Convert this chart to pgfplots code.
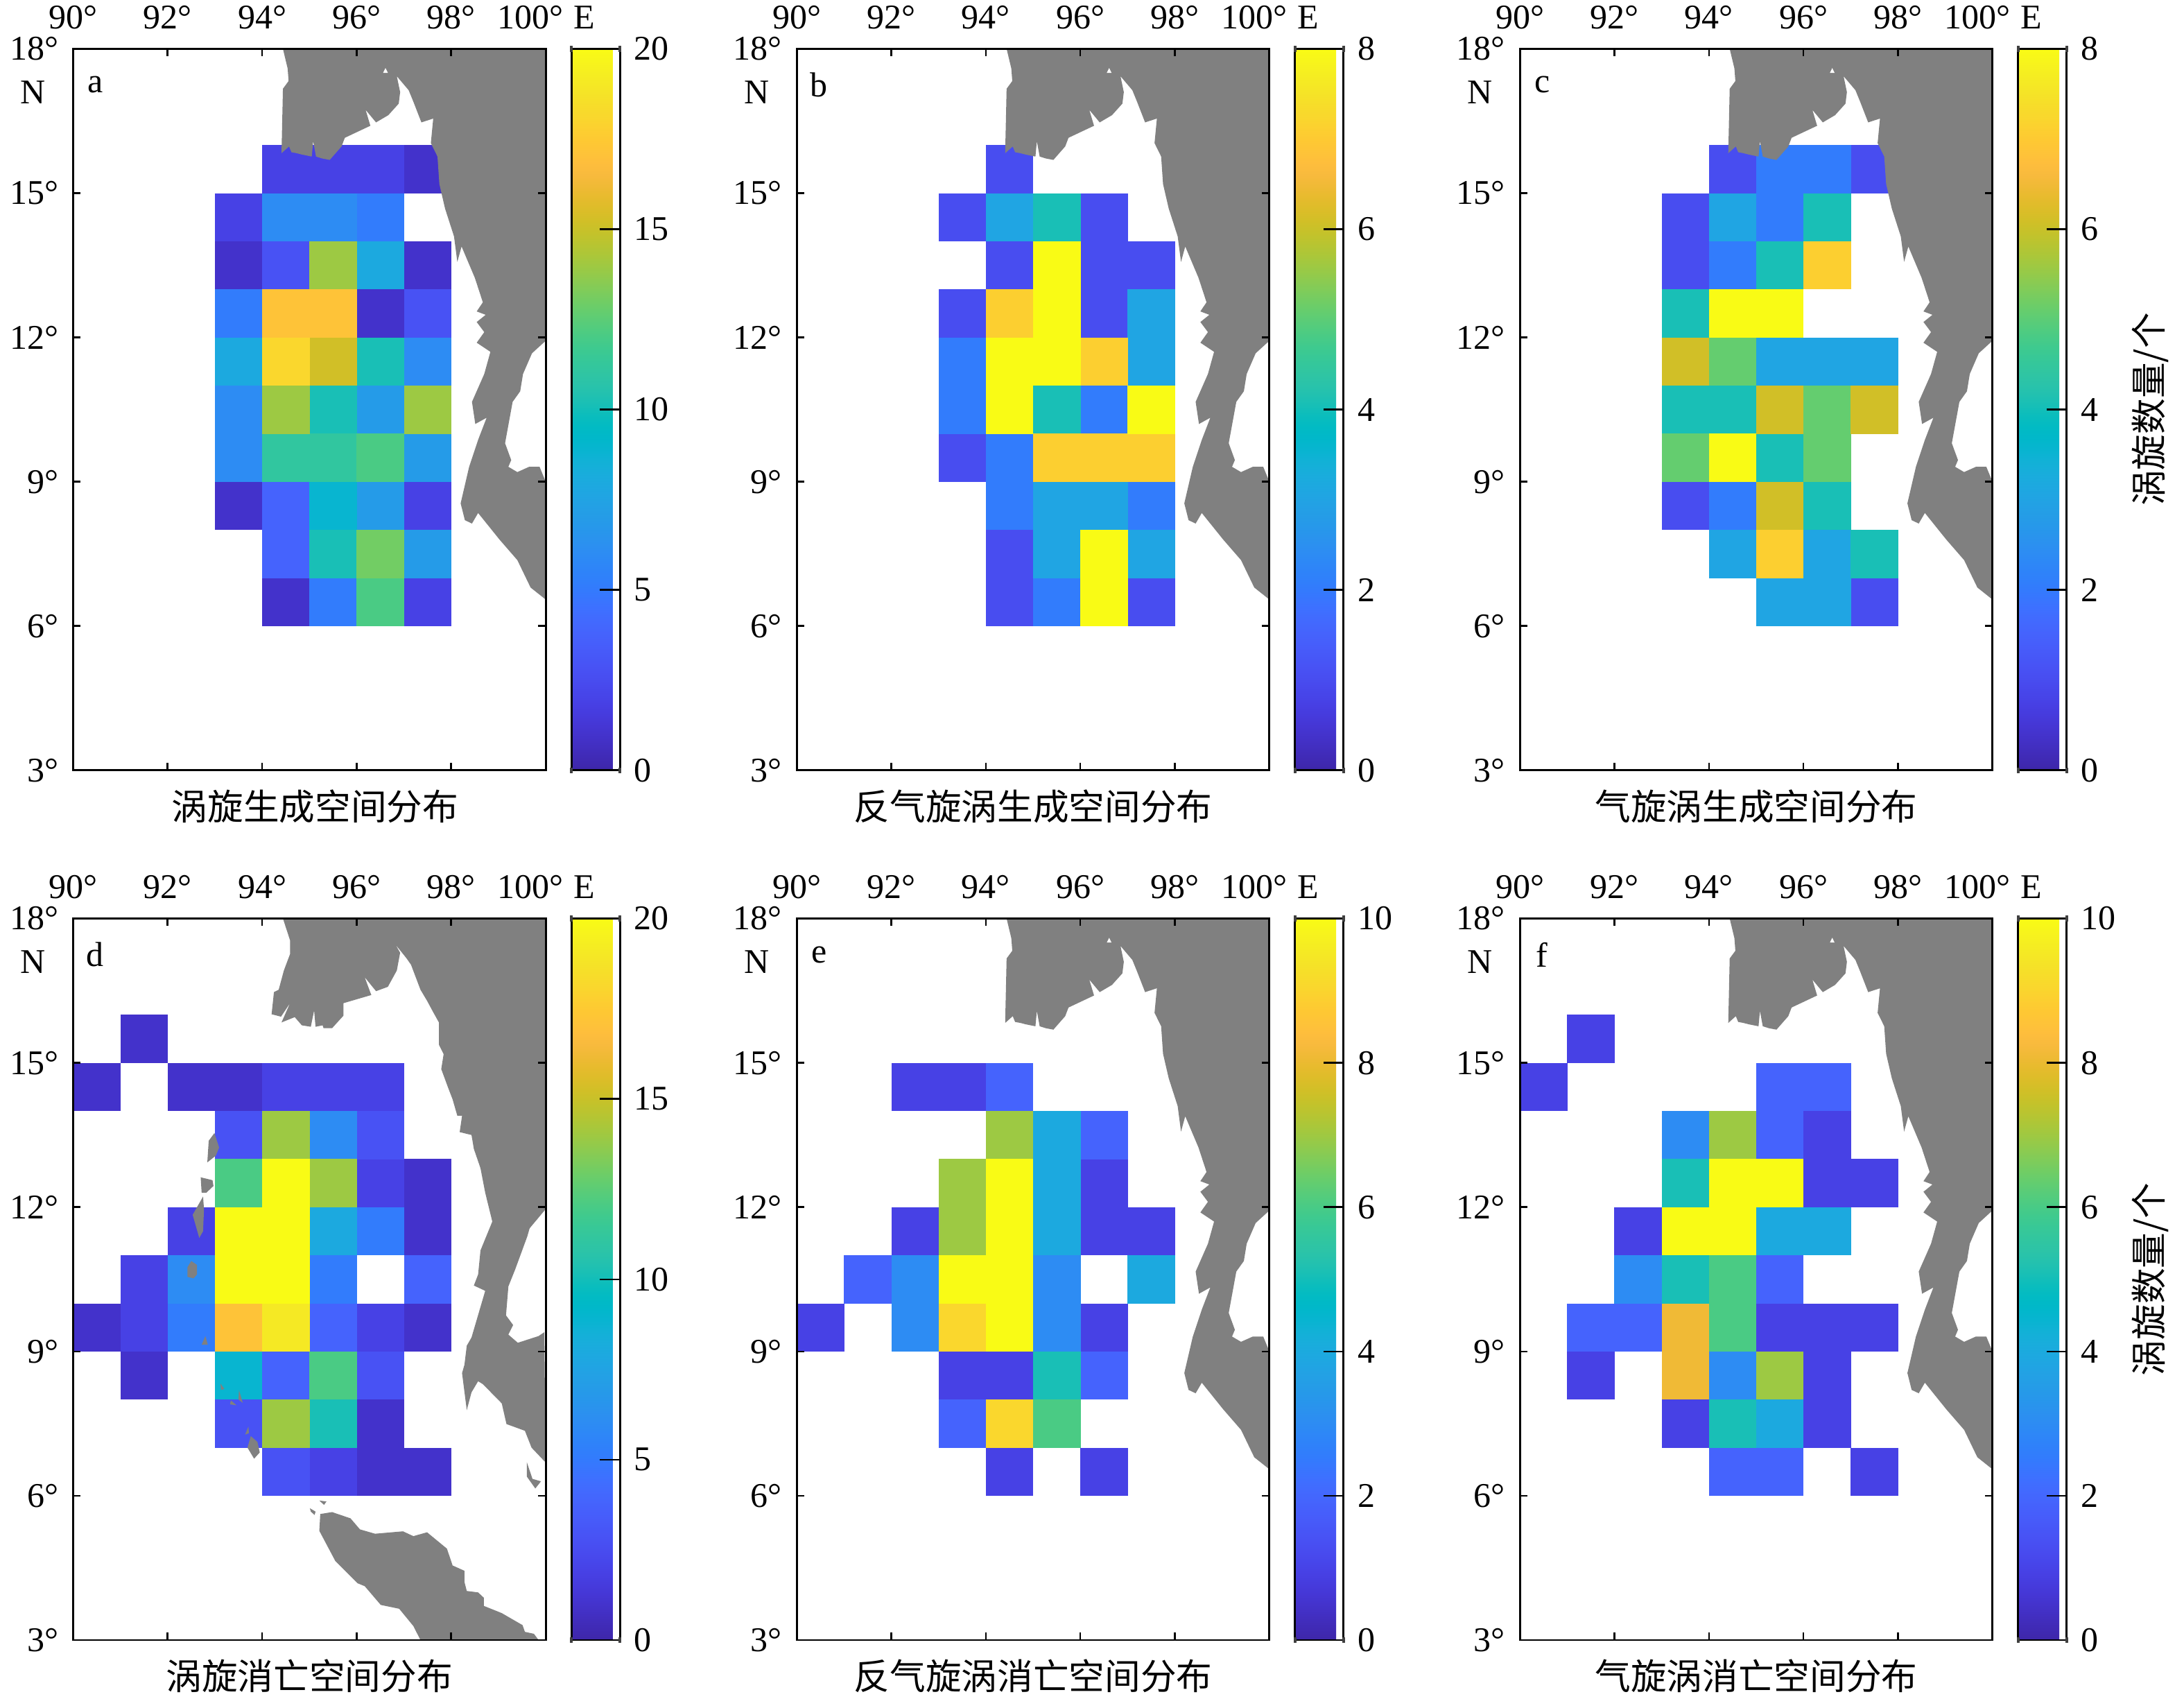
\documentclass[border=0pt]{standalone}
\usepackage{fontspec}
\usepackage{pgfplots}
\pgfplotsset{compat=1.18}
\setmainfont{Liberation Serif}
\newfontfamily\cjk{Noto Sans CJK SC}
\definecolor{landgray}{RGB}{128,128,128}
\definecolor{nubgray}{RGB}{64,64,64}
\newcommand{\lab}{\fontsize{12}{12}\selectfont}

% cell colours, named by their place in the 64 step colormap below
\definecolor{p4}{rgb}{0.2647,0.1978,0.7952}
\definecolor{p7}{rgb}{0.2783,0.2559,0.8991}
\definecolor{p9}{rgb}{0.2813,0.3006,0.9414}
\definecolor{p10}{rgb}{0.2810,0.3228,0.9579}
\definecolor{p13}{rgb}{0.2699,0.3892,0.9906}
\definecolor{p17}{rgb}{0.1963,0.4847,0.9892}
\definecolor{p20}{rgb}{0.1764,0.5499,0.9520}
\definecolor{p23}{rgb}{0.1460,0.6091,0.9079}
\definecolor{p25}{rgb}{0.1248,0.6459,0.8883}
\definecolor{p26}{rgb}{0.1113,0.6635,0.8763}
\definecolor{p29}{rgb}{0.0297,0.7082,0.8163}
\definecolor{p33}{rgb}{0.0964,0.7500,0.7120}
\definecolor{p36}{rgb}{0.1938,0.7758,0.6251}
\definecolor{p39}{rgb}{0.2906,0.7973,0.5188}
\definecolor{p41}{rgb}{0.3909,0.8029,0.4354}
\definecolor{p42}{rgb}{0.4456,0.8024,0.3909}
\definecolor{p45}{rgb}{0.6174,0.7876,0.2612}
\definecolor{p49}{rgb}{0.8203,0.7498,0.1535}
\definecolor{p52}{rgb}{0.9393,0.7288,0.2100}
\definecolor{p55}{rgb}{0.9970,0.7659,0.2199}
\definecolor{p57}{rgb}{0.9892,0.8130,0.1885}
\definecolor{p58}{rgb}{0.9786,0.8422,0.1766}
\definecolor{p61}{rgb}{0.9597,0.9135,0.1423}
\definecolor{p64}{rgb}{0.9769,0.9839,0.0805}

\pgfplotsset{
    colormap={parula}{
        rgb=(0.2422,0.1504,0.6603); rgb=(0.2504,0.1650,0.7076); rgb=(0.2578,0.1818,0.7511); rgb=(0.2647,0.1978,0.7952);
        rgb=(0.2706,0.2147,0.8364); rgb=(0.2751,0.2342,0.8710); rgb=(0.2783,0.2559,0.8991); rgb=(0.2803,0.2782,0.9221);
        rgb=(0.2813,0.3006,0.9414); rgb=(0.2810,0.3228,0.9579); rgb=(0.2795,0.3447,0.9717); rgb=(0.2760,0.3667,0.9829);
        rgb=(0.2699,0.3892,0.9906); rgb=(0.2602,0.4123,0.9952); rgb=(0.2440,0.4358,0.9988); rgb=(0.2206,0.4603,0.9973);
        rgb=(0.1963,0.4847,0.9892); rgb=(0.1834,0.5074,0.9798); rgb=(0.1786,0.5289,0.9682); rgb=(0.1764,0.5499,0.9520);
        rgb=(0.1687,0.5703,0.9359); rgb=(0.1540,0.5902,0.9218); rgb=(0.1460,0.6091,0.9079); rgb=(0.1380,0.6276,0.8973);
        rgb=(0.1248,0.6459,0.8883); rgb=(0.1113,0.6635,0.8763); rgb=(0.0952,0.6798,0.8598); rgb=(0.0689,0.6948,0.8394);
        rgb=(0.0297,0.7082,0.8163); rgb=(0.0036,0.7203,0.7917); rgb=(0.0067,0.7312,0.7660); rgb=(0.0433,0.7411,0.7394);
        rgb=(0.0964,0.7500,0.7120); rgb=(0.1408,0.7584,0.6842); rgb=(0.1717,0.7670,0.6554); rgb=(0.1938,0.7758,0.6251);
        rgb=(0.2161,0.7843,0.5923); rgb=(0.2470,0.7918,0.5567); rgb=(0.2906,0.7973,0.5188); rgb=(0.3406,0.8008,0.4789);
        rgb=(0.3909,0.8029,0.4354); rgb=(0.4456,0.8024,0.3909); rgb=(0.5044,0.7993,0.3480); rgb=(0.5616,0.7942,0.3045);
        rgb=(0.6174,0.7876,0.2612); rgb=(0.6720,0.7793,0.2227); rgb=(0.7242,0.7698,0.1910); rgb=(0.7738,0.7598,0.1646);
        rgb=(0.8203,0.7498,0.1535); rgb=(0.8634,0.7406,0.1596); rgb=(0.9035,0.7330,0.1774); rgb=(0.9393,0.7288,0.2100);
        rgb=(0.9728,0.7298,0.2394); rgb=(0.9956,0.7434,0.2371); rgb=(0.9970,0.7659,0.2199); rgb=(0.9952,0.7861,0.1990);
        rgb=(0.9892,0.8130,0.1885); rgb=(0.9786,0.8422,0.1766); rgb=(0.9676,0.8639,0.1643); rgb=(0.9610,0.8890,0.1537);
        rgb=(0.9597,0.9135,0.1423); rgb=(0.9628,0.9373,0.1265); rgb=(0.9691,0.9606,0.1064); rgb=(0.9769,0.9839,0.0805);
    },
    cell/.style={
        only marks, mark=square*, mark size=8.1pt,
        mark options={draw=#1, fill=#1, yscale=1.016, line width=0.16pt},
    },
    land/.style={fill=landgray, draw=none},
    panel/.style={
        anchor=south west,
        scale only axis,
        width=163.6pt,
        height=249.7pt,
        xmin=90, xmax=100,
        ymin=3, ymax=18,
        axis on top,
        clip mode=individual,
        axis line style={line width=0.7pt},
        tick align=inside,
        tick style={black, line width=0.6pt},
        major tick length=2.6pt,
        xtick={90,92,...,100},
        ytick={3,6,...,18},
        xticklabel pos=top,
        xticklabels={90°,92°,94°,96°,98°,{}},
        yticklabels={3°,6°,9°,12°,15°,18°},
        tick label style={font=\lab},
        xticklabel style={anchor=base, yshift=7pt},
        yticklabel style={anchor=east, xshift=-1.6pt},
        colormap name=parula,
        point meta min=0,
        colorbar,
        colorbar style={
            scale only axis,
            at={(parent axis.north east)},
            anchor=north west,
            xshift=0.37pt,
            width=16.8pt,
            axis line style={line width=0.7pt},
            tick align=inside,
            major tick length=7pt,
            ytick pos=right,
            ytick style={black, line width=0.6pt},
            xtick style={draw=none},
            yticklabel style={font=\lab, anchor=west, xshift=1.4pt,
                /pgf/number format/assume math mode=true},
            extra description/.code={
                \fill[nubgray] (-0.03,0.996) rectangle (0.03,1.004);
                \fill[nubgray] (0.97,0.996) rectangle (1.03,1.004);
                \fill[nubgray] (-0.03,-0.004) rectangle (0.03,0.004);
                \fill[nubgray] (0.97,-0.004) rectangle (1.03,0.004);
            },
        },
    },
}

% letter, title, title shift
\newcommand{\paneltext}[3]{
    \node[font=\lab] at (axis cs:90.47,17.25) {#1};
    \node[font=\lab] at (rel axis cs:-0.0844,0.9394) {N};
    \node[font=\lab, anchor=base, yshift=7pt] at (rel axis cs:0.968,1) {100°};
    \node[font=\lab, anchor=base, yshift=7pt] at (rel axis cs:1.082,1) {E};
    \node[font=\cjk\fontsize{12.4}{12.4}\selectfont, yshift=-12.5pt] at (rel axis cs:#3,0) {#2};
}
\newcommand{\unitlabel}{
    \node[font=\cjk\fontsize{12.4}{12.4}\selectfont, rotate=90] at (rel axis cs:1.334,0.5) {涡旋数量/个};
}

% coast as seen in panels a, b, c, e, f
\newcommand{\landtop}{
    \addplot[land] coordinates {
        (94.44,18) (94.54,17.59) (94.56,17.33) (94.44,17.17) (94.41,15.83) (94.57,15.97) (94.62,15.85) (94.73,15.83)
        (94.85,15.8) (95.05,15.76) (95.08,16.08) (95.14,15.76) (95.27,15.72) (95.43,15.69) (95.68,15.97) (95.75,16.15)
        (96.29,16.4) (96.19,16.73) (96.41,16.47) (96.67,16.62) (96.89,16.86) (96.92,17.10) (96.85,17.43) (97.10,17.14)
        (97.2,16.9) (97.37,16.47) (97.62,16.55) (97.57,16.04) (97.71,15.76) (97.75,15.19) (97.87,14.68) (98.06,14.1)
        (98.13,13.57) (98.22,13.89) (98.5,13.24) (98.67,12.73) (98.54,12.54) (98.73,12.47) (98.54,12.32) (98.7,12.11)
        (98.54,11.89) (98.83,11.7) (98.7,11.24) (98.44,10.66) (98.51,10.2) (98.75,10.33) (98.57,9.87) (98.38,9.31)
        (98.2,8.55) (98.29,8.2) (98.44,8.13) (98.57,8.35) (99.02,7.8) (99.4,7.37) (99.68,6.8) (100,6.55)
        (100,9.0) (99.87,9.31) (99.65,9.31) (99.4,9.2) (99.21,9.31) (99.27,9.45) (99.14,9.8) (99.3,10.66)
        (99.46,10.88) (99.52,11.24) (99.71,11.67) (100,11.93) (100,18)
    } -- cycle;
    \addplot[land, fill=white] coordinates {(96.61,17.6) (96.66,17.5) (96.56,17.5)} -- cycle;
}
% coarser coast, islands and Sumatra of panel d
\newcommand{\landd}{
    \addplot[land] coordinates {
        (94.44,18) (94.59,17.55) (94.59,17.26) (94.46,16.92) (94.35,16.52) (94.25,16.47) (94.2,16.01) (94.4,15.96)
        (94.59,16.24) (94.41,15.84) (94.69,15.95) (94.84,15.78) (95.03,15.75) (95.1,16.09) (95.13,15.75) (95.28,15.78)
        (95.3,15.72) (95.48,15.72) (95.72,15.98) (95.72,16.24) (96.31,16.41) (96.17,16.78) (96.41,16.49) (96.66,16.58)
        (96.85,16.92) (96.92,17.29) (96.82,17.46) (97.05,17.18) (97.15,17.04) (97.35,16.52) (97.49,16.29) (97.61,16.07)
        (97.74,15.84) (97.74,15.38) (97.84,15.18) (97.79,14.87) (97.94,14.47) (98.03,14.24) (98.13,13.9) (98.23,13.9)
        (98.18,13.56) (98.43,13.5) (98.48,13.21) (98.62,12.81) (98.72,12.3) (98.87,11.7) (98.62,11.1) (98.57,10.6)
        (98.48,10.37) (98.72,10.26) (98.43,9.29) (98.33,9.12) (98.28,8.72) (98.23,8.55) (98.33,7.78) (98.43,8.15)
        (98.57,8.38) (98.67,8.32) (99.07,7.92) (99.17,7.49) (99.56,7.35) (99.7,7.0) (99.97,6.72) (100,6.7)
        (99.97,9.4) (99.85,9.32) (99.41,9.18) (99.21,9.35) (99.31,9.55) (99.16,9.75) (99.21,10.35) (99.36,10.72)
        (99.61,11.39) (99.66,11.56) (100,11.96) (100,18)
    } -- cycle;
    \addplot[land] coordinates {(92.99,13.54) (93.09,13.24) (93.02,13.07) (92.84,12.93) (92.87,13.38)} -- cycle;
    \addplot[land] coordinates {(92.70,12.62) (92.95,12.56) (92.97,12.44) (92.82,12.30) (92.72,12.30)} -- cycle;
    \addplot[land] coordinates {(92.75,12.22) (92.77,11.96) (92.75,11.50) (92.67,11.36) (92.53,11.84)} -- cycle;
    \addplot[land] coordinates {(92.5,10.88) (92.62,10.8) (92.62,10.6) (92.55,10.52) (92.42,10.55) (92.42,10.75)} -- cycle;
    \addplot[land] coordinates {(92.8,9.32) (92.85,9.14) (92.72,9.14)} -- cycle;
    \addplot[land] coordinates {(93.12,8.33) (93.2,8.22) (93.13,8.2)} -- cycle;
    \addplot[land] coordinates {(93.51,8.2) (93.59,7.93) (93.5,8.0)} -- cycle;
    \addplot[land] coordinates {(93.34,7.98) (93.46,7.88) (93.32,7.9)} -- cycle;
    \addplot[land] coordinates {(93.71,7.44) (93.64,7.27) (93.72,7.3)} -- cycle;
    \addplot[land] coordinates {(93.76,7.24) (93.9,7.12) (93.95,6.9) (93.83,6.77) (93.69,7.0)} -- cycle;
    \addplot[land] coordinates {(95.01,5.74) (95.13,5.67) (95.11,5.6) (95.03,5.67)} -- cycle;
    \addplot[land] coordinates {(95.21,5.9) (95.36,5.88) (95.31,5.81)} -- cycle;
    \addplot[land] coordinates {(99.6,6.7) (99.72,6.35) (99.9,6.3) (99.78,6.15) (99.6,6.4)} -- cycle;
    \addplot[land] coordinates {
        (95.23,5.62) (95.48,5.66) (95.87,5.53) (96.07,5.3) (96.39,5.21) (96.98,5.26) (97.2,5.16) (97.49,5.24)
        (97.91,4.9) (98.03,4.55) (98.28,4.44) (98.28,4.21) (98.33,4.02) (98.57,3.99) (98.69,3.88) (98.69,3.71)
        (99.07,3.56) (99.51,3.31) (99.56,3.17) (99.75,3.13) (99.85,3.0) (97.35,3) (97.2,3.29) (96.9,3.65)
        (96.51,3.73) (96.17,4.12) (96.02,4.18) (95.55,4.64) (95.21,5.27)
    } -- cycle;
}

\begin{document}
\begin{tikzpicture}
\path[use as bounding box] (0,0) rectangle (756pt,588pt);

% a: one plot per count, max 20
\begin{axis}[panel, at={(25.3pt,321.4pt)}, point meta max=20, colorbar style={ytick={0,5,10,15,20}}]
\addplot[cell=p4] coordinates {(97.5,15.5) (93.5,13.5) (97.5,13.5) (96.5,12.5) (93.5,8.5) (94.5,6.5)}; % 1
\addplot[cell=p7] coordinates {(94.5,15.5) (95.5,15.5) (96.5,15.5) (93.5,14.5) (97.5,8.5) (97.5,6.5)}; % 2
\addplot[cell=p10] coordinates {(94.5,13.5) (97.5,12.5)}; % 3
\addplot[cell=p13] coordinates {(94.5,8.5) (94.5,7.5)}; % 4
\addplot[cell=p17] coordinates {(96.5,14.5) (93.5,12.5) (95.5,6.5)}; % 5
\addplot[cell=p20] coordinates {(94.5,14.5) (95.5,14.5) (97.5,11.5) (93.5,10.5) (93.5,9.5)}; % 6
\addplot[cell=p23] coordinates {(96.5,10.5) (97.5,9.5) (96.5,8.5) (97.5,7.5)}; % 7
\addplot[cell=p26] coordinates {(96.5,13.5) (93.5,11.5)}; % 8
\addplot[cell=p29] coordinates {(95.5,8.5)}; % 9
\addplot[cell=p33] coordinates {(96.5,11.5) (95.5,10.5) (95.5,7.5)}; % 10
\addplot[cell=p36] coordinates {(94.5,9.5) (95.5,9.5)}; % 11
\addplot[cell=p39] coordinates {(96.5,9.5) (96.5,6.5)}; % 12
\addplot[cell=p42] coordinates {(96.5,7.5)}; % 13
\addplot[cell=p45] coordinates {(95.5,13.5) (94.5,10.5) (97.5,10.5)}; % 14
\addplot[cell=p49] coordinates {(95.5,11.5)}; % 15
\addplot[cell=p55] coordinates {(94.5,12.5) (95.5,12.5)}; % 17
\addplot[cell=p58] coordinates {(94.5,11.5)}; % 18
\landtop
\paneltext{a}{涡旋生成空间分布}{0.512}
\end{axis}

% b: max 8
\begin{axis}[panel, at={(275.8pt,321.4pt)}, point meta max=8, colorbar style={ytick={0,2,4,6,8}}]
\addplot[cell=p9] coordinates {(94.5,15.5) (93.5,14.5) (96.5,14.5) (94.5,13.5) (96.5,13.5) (97.5,13.5) (93.5,12.5) (96.5,12.5) (93.5,9.5) (94.5,7.5) (94.5,6.5) (97.5,6.5)}; % 1
\addplot[cell=p17] coordinates {(93.5,11.5) (93.5,10.5) (96.5,10.5) (94.5,9.5) (94.5,8.5) (97.5,8.5) (95.5,6.5)}; % 2
\addplot[cell=p25] coordinates {(94.5,14.5) (97.5,12.5) (97.5,11.5) (95.5,8.5) (96.5,8.5) (95.5,7.5) (97.5,7.5)}; % 3
\addplot[cell=p33] coordinates {(95.5,14.5) (95.5,10.5)}; % 4
\addplot[cell=p57] coordinates {(94.5,12.5) (96.5,11.5) (95.5,9.5) (96.5,9.5) (97.5,9.5)}; % 7
\addplot[cell=p64] coordinates {(95.5,13.5) (95.5,12.5) (94.5,11.5) (95.5,11.5) (94.5,10.5) (97.5,10.5) (96.5,7.5) (96.5,6.5)}; % 8
\landtop
\paneltext{b}{反气旋涡生成空间分布}{0.5}
\end{axis}

% c: max 8
\begin{axis}[panel, at={(526.1pt,321.4pt)}, point meta max=8, colorbar style={ytick={0,2,4,6,8}}]
\addplot[cell=p9] coordinates {(94.5,15.5) (97.5,15.5) (93.5,14.5) (93.5,13.5) (93.5,8.5) (97.5,6.5)}; % 1
\addplot[cell=p17] coordinates {(95.5,15.5) (96.5,15.5) (95.5,14.5) (94.5,13.5) (94.5,8.5)}; % 2
\addplot[cell=p25] coordinates {(94.5,14.5) (95.5,11.5) (96.5,11.5) (97.5,11.5) (94.5,7.5) (96.5,7.5) (95.5,6.5) (96.5,6.5)}; % 3
\addplot[cell=p33] coordinates {(96.5,14.5) (95.5,13.5) (93.5,12.5) (93.5,10.5) (94.5,10.5) (95.5,9.5) (96.5,8.5) (97.5,7.5)}; % 4
\addplot[cell=p41] coordinates {(94.5,11.5) (96.5,10.5) (93.5,9.5) (96.5,9.5)}; % 5
\addplot[cell=p49] coordinates {(93.5,11.5) (95.5,10.5) (97.5,10.5) (95.5,8.5)}; % 6
\addplot[cell=p57] coordinates {(96.5,13.5) (95.5,7.5)}; % 7
\addplot[cell=p64] coordinates {(94.5,12.5) (95.5,12.5) (94.5,9.5)}; % 8
\landtop
\paneltext{c}{气旋涡生成空间分布}{0.5}
\unitlabel
\end{axis}

% d: max 20
\begin{axis}[panel, at={(25.3pt,20.4pt)}, point meta max=20, colorbar style={ytick={0,5,10,15,20}}]
\addplot[cell=p4] coordinates {(91.5,15.5) (90.5,14.5) (92.5,14.5) (93.5,14.5) (97.5,12.5) (97.5,11.5) (90.5,9.5) (97.5,9.5) (91.5,8.5) (96.5,7.5) (96.5,6.5) (97.5,6.5)}; % 1
\addplot[cell=p7] coordinates {(94.5,14.5) (95.5,14.5) (96.5,14.5) (96.5,12.5) (92.5,11.5) (91.5,10.5) (91.5,9.5) (96.5,9.5) (95.5,6.5)}; % 2
\addplot[cell=p10] coordinates {(93.5,13.5) (96.5,13.5) (96.5,8.5) (93.5,7.5) (94.5,6.5)}; % 3
\addplot[cell=p13] coordinates {(97.5,10.5) (95.5,9.5) (94.5,8.5)}; % 4
\addplot[cell=p17] coordinates {(96.5,11.5) (95.5,10.5) (92.5,9.5)}; % 5
\addplot[cell=p20] coordinates {(95.5,13.5) (92.5,10.5)}; % 6
\addplot[cell=p26] coordinates {(95.5,11.5)}; % 8
\addplot[cell=p29] coordinates {(93.5,8.5)}; % 9
\addplot[cell=p33] coordinates {(95.5,7.5)}; % 10
\addplot[cell=p39] coordinates {(93.5,12.5) (95.5,8.5)}; % 12
\addplot[cell=p45] coordinates {(94.5,13.5) (95.5,12.5) (94.5,7.5)}; % 14
\addplot[cell=p55] coordinates {(93.5,9.5)}; % 17
\addplot[cell=p61] coordinates {(94.5,9.5)}; % 19
\addplot[cell=p64] coordinates {(94.5,12.5) (93.5,11.5) (94.5,11.5) (93.5,10.5) (94.5,10.5)}; % 20
\landd
\paneltext{d}{涡旋消亡空间分布}{0.5}
\end{axis}

% e: max 10
\begin{axis}[panel, at={(275.8pt,20.4pt)}, point meta max=10, colorbar style={ytick={0,2,4,6,8,10}}]
\addplot[cell=p7] coordinates {(92.5,14.5) (93.5,14.5) (96.5,12.5) (92.5,11.5) (96.5,11.5) (97.5,11.5) (90.5,9.5) (96.5,9.5) (93.5,8.5) (94.5,8.5) (94.5,6.5) (96.5,6.5)}; % 1
\addplot[cell=p13] coordinates {(94.5,14.5) (96.5,13.5) (91.5,10.5) (96.5,8.5) (93.5,7.5)}; % 2
\addplot[cell=p20] coordinates {(92.5,10.5) (95.5,10.5) (92.5,9.5) (95.5,9.5)}; % 3
\addplot[cell=p26] coordinates {(95.5,13.5) (95.5,12.5) (95.5,11.5) (97.5,10.5)}; % 4
\addplot[cell=p33] coordinates {(95.5,8.5)}; % 5
\addplot[cell=p39] coordinates {(95.5,7.5)}; % 6
\addplot[cell=p45] coordinates {(94.5,13.5) (93.5,12.5) (93.5,11.5)}; % 7
\addplot[cell=p58] coordinates {(93.5,9.5) (94.5,7.5)}; % 9
\addplot[cell=p64] coordinates {(94.5,12.5) (94.5,11.5) (93.5,10.5) (94.5,10.5) (94.5,9.5)}; % 10
\landtop
\paneltext{e}{反气旋涡消亡空间分布}{0.5}
\end{axis}

% f: max 10
\begin{axis}[panel, at={(526.1pt,20.4pt)}, point meta max=10, colorbar style={ytick={0,2,4,6,8,10}}]
\addplot[cell=p7] coordinates {(91.5,15.5) (90.5,14.5) (96.5,13.5) (96.5,12.5) (97.5,12.5) (92.5,11.5) (95.5,9.5) (96.5,9.5) (97.5,9.5) (91.5,8.5) (96.5,8.5) (93.5,7.5) (96.5,7.5) (97.5,6.5)}; % 1
\addplot[cell=p13] coordinates {(95.5,14.5) (96.5,14.5) (95.5,13.5) (95.5,10.5) (91.5,9.5) (92.5,9.5) (94.5,6.5) (95.5,6.5)}; % 2
\addplot[cell=p20] coordinates {(93.5,13.5) (92.5,10.5) (94.5,8.5)}; % 3
\addplot[cell=p26] coordinates {(95.5,11.5) (96.5,11.5) (95.5,7.5)}; % 4
\addplot[cell=p33] coordinates {(93.5,12.5) (93.5,10.5) (94.5,7.5)}; % 5
\addplot[cell=p39] coordinates {(94.5,10.5) (94.5,9.5)}; % 6
\addplot[cell=p45] coordinates {(94.5,13.5) (95.5,8.5)}; % 7
\addplot[cell=p52] coordinates {(93.5,9.5) (93.5,8.5)}; % 8
\addplot[cell=p64] coordinates {(94.5,12.5) (95.5,12.5) (93.5,11.5) (94.5,11.5)}; % 10
\landtop
\paneltext{f}{气旋涡消亡空间分布}{0.5}
\unitlabel
\end{axis}
\end{tikzpicture}
\end{document}
